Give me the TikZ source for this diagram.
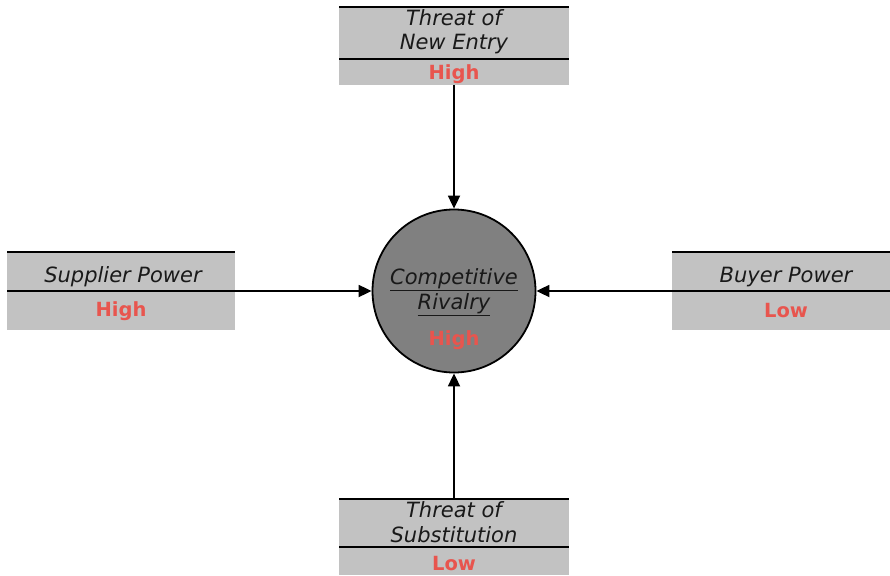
\documentclass[tikz,border=0pt]{standalone}
\usepackage{fontspec}
\setmainfont{DejaVu Sans}
\usetikzlibrary{arrows.meta}
\definecolor{boxgray}{HTML}{C2C2C2}
\definecolor{circgray}{HTML}{808080}
\definecolor{valred}{HTML}{E8554E}
\tikzset{
  boxline/.style={line width=1.8pt},
  label/.style={font=\fontsize{21}{24}\selectfont\itshape, text=black!90, inner sep=0pt},
  value/.style={font=\fontsize{19.5}{22}\selectfont\bfseries, text=valred, inner sep=0pt},
  conn/.style={line width=1.8pt, -{Triangle[length=13pt,width=12pt]}},
}
\begin{document}
\begin{tikzpicture}[x=1pt,y=-1pt]
\useasboundingbox (0,0) rectangle (890,575);
% top box
\fill[boxgray] (339,7) rectangle (569,85);
\draw[boxline] (339,7) -- (569,7);
\draw[boxline] (339,59) -- (569,59);
\node[label] (t1) at (454,18) {Threat of};
\node[label] (t2) at (454,44) {New Entry};
\node[value] (tv) at (454,74) {High};
\coordinate (tb) at (454,85);
% left box
\fill[boxgray] (7,252) rectangle (235,330);
\draw[boxline] (7,252) -- (235,252);
\draw[boxline] (7,291) -- (235,291);
\node[label] (l1) at (123,277) {Supplier Power};
\node[value] (lv) at (121,311) {High};
\coordinate (lb) at (235,291);
% right box
\fill[boxgray] (672,252) rectangle (890,330);
\draw[boxline] (672,252) -- (890,252);
\draw[boxline] (672,291) -- (890,291);
\node[label] (r1) at (786,277) {Buyer Power};
\node[value] (rv) at (786,311) {Low};
\coordinate (rb) at (672,291);
% bottom box
\fill[boxgray] (339,499) rectangle (569,575);
\draw[boxline] (339,499) -- (569,499);
\draw[boxline] (339,547) -- (569,547);
\node[label] (b1) at (454,510) {Threat of};
\node[label] (b2) at (454,535) {Substitution};
\node[value] (bv) at (454,564) {Low};
\coordinate (bb) at (454,499);
% circle
\node[circle, draw, line width=1.8pt, fill=circgray, minimum size=163pt, inner sep=0pt] (c) at (454,291) {};
\node[label] (c1) at (454,280) {\underline{Competitive}};
\node[label] (c2) at (454,305) {\underline{Rivalry}};
\node[value] (cv) at (454,340) {High};
% connectors
\draw[conn] (tb) -- (c.north);
\draw[conn] (bb) -- (c.south);
\draw[conn] (lb) -- (c.west);
\draw[conn] (rb) -- (c.east);
\end{tikzpicture}
\end{document}
